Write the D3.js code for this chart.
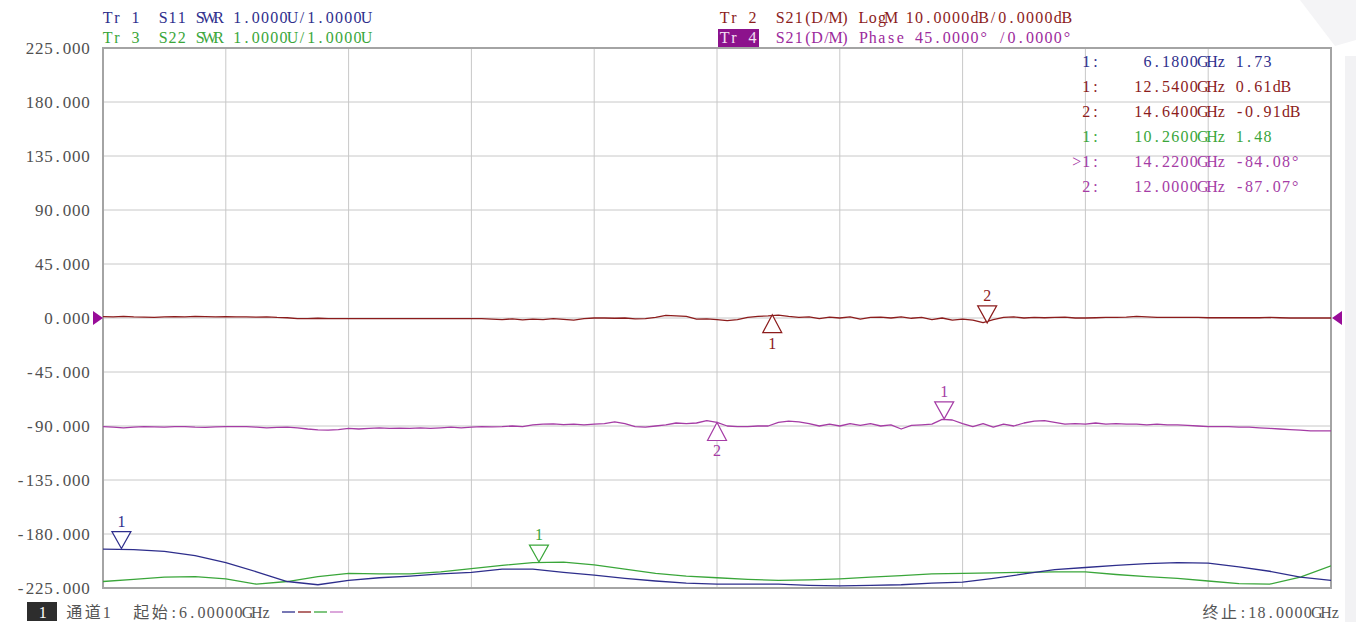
<!DOCTYPE html>
<html>
<head>
<meta charset="utf-8">
<script src="https://cdn.jsdelivr.net/npm/d3@7"></script>
<style>
html, body { margin: 0; padding: 0; background: #fff; }
svg { display: block; }
text { font-family: "Liberation Serif", "Noto Sans CJK SC", serif; white-space: pre; }
</style>
</head>
<body>
<svg id="chart"></svg>
<script>
"use strict";

// sweep points, GHz
var freqCoarse = d3.range(41).map(i => 6 + i * 0.3);
var freqFine = d3.range(121).map(i => 6 + i * 0.1);

// Tr 1, S11 SWR (U), on freqCoarse
var s11Swr = [1.72, 1.71, 1.68, 1.60, 1.47, 1.30, 1.12, 1.06, 1.14, 1.19,
    1.22, 1.26, 1.29, 1.35, 1.35, 1.29, 1.24, 1.18, 1.13, 1.09,
    1.07, 1.07, 1.07, 1.05, 1.04, 1.05, 1.06, 1.09, 1.11, 1.18,
    1.26, 1.34, 1.38, 1.42, 1.45, 1.47, 1.46, 1.39, 1.31, 1.20,
    1.14];

// Tr 3, S22 SWR (U), on freqCoarse
var s22Swr = [1.12, 1.16, 1.20, 1.21, 1.17, 1.07, 1.12, 1.21, 1.27, 1.26,
    1.26, 1.30, 1.36, 1.42, 1.47, 1.48, 1.43, 1.35, 1.27, 1.22,
    1.19, 1.16, 1.14, 1.15, 1.17, 1.20, 1.23, 1.26, 1.27, 1.28,
    1.29, 1.30, 1.30, 1.25, 1.21, 1.18, 1.13, 1.08, 1.07, 1.20,
    1.41];

// Tr 2, S21 LogM (dB), on freqFine
var s21LogM = [0.25, 0.2, 0.3, 0.2, 0.15, 0.1, 0.2, 0.25, 0.2, 0.3,
    0.25, 0.2, 0.25, 0.2, 0.2, 0.15, 0.2, 0.1, 0.05, -0.1,
    -0.1, -0.05, -0.1, -0.1, -0.1, -0.1, -0.1, -0.1, -0.1, -0.1,
    -0.1, -0.1, -0.1, -0.1, -0.1, -0.1, -0.1, -0.1, -0.2, -0.3,
    -0.15, -0.35, -0.2, -0.3, -0.1, -0.25, -0.4, -0.1, 0, 0,
    -0.05, 0, -0.15, -0.1, 0.1, 0.5, 0.4, 0.3, -0.2, -0.15,
    -0.3, -0.5, -0.3, 0.1, 0.3, 0.4, 0.55, 0.3, 0.1, 0.2,
    -0.1, 0.15, 0, 0.2, -0.2, 0.1, 0.15, 0, 0.2, -0.05,
    0.1, -0.3, 0, -0.4, -0.2, -0.4, -0.85, -0.3, 0.1, 0.2,
    0, 0.1, 0.05, 0.1, 0.15, 0, 0, 0.05, 0.1, 0.1,
    0.15, 0.3, 0.2, 0.1, 0.1, 0.1, 0.1, 0.1, 0.05, 0.05,
    0.05, 0.05, 0.05, 0.05, 0.1, 0.05, 0, 0, 0, 0,
    0];

// Tr 4, S21 phase (deg), on freqFine
var s21Phase = [-90.5, -91, -91.5, -91, -90.5, -90.8, -91, -90.5, -90.5, -91,
    -91.2, -90.8, -90.5, -90.6, -90.5, -91, -91.5, -91.2, -91, -91.5,
    -92.5, -93.3, -93.5, -93, -92, -92.5, -92, -91.5, -92, -91.8,
    -92, -91.5, -92, -91.5, -91, -91.5, -91, -90.5, -90.8, -90.5,
    -90, -90.5, -89, -88.5, -88.3, -88.8, -88.5, -89, -88.5, -88,
    -86.5, -88, -90.5, -91, -90, -89, -87.5, -88, -87.5, -85.5,
    -87, -90, -90.5, -90.5, -90, -90, -87, -86, -86.5, -88,
    -90, -88.5, -90, -88, -89.5, -88, -90, -89, -92.5, -89.5,
    -89, -88.5, -84.5, -85, -88, -90.5, -88, -91, -88.5, -90,
    -87.5, -86, -85.5, -87, -88.5, -88, -88.5, -87.5, -88.5, -88,
    -88.5, -88.5, -89, -88.5, -89, -89, -89.5, -90, -90.5, -90.5,
    -90.5, -91, -91, -91.5, -92, -92.5, -93, -93.5, -94, -94,
    -94];

var yTickValues = [225, 180, 135, 90, 45, 0, -45, -90, -135, -180, -225];

// markers
var markerTrace = ['s11', 's21m', 's21m', 's22', 's21p', 's21p'];
var markerName = ['1', '1', '2', '1', '1', '2'];
var markerFreq = [6.18, 12.54, 14.64, 10.26, 14.22, 12.00];
var markerValue = [1.73, 0.61, -0.91, 1.48, -84.08, -87.07];
var markerUnit = ['', 'dB', 'dB', '', '°', '°'];

var headerLines = [
    'Tr 1  S11 SWR 1.0000U/1.0000U',
    'Tr 3  S22 SWR 1.0000U/1.0000U',
    'Tr 2  S21(D/M) LogM 10.0000dB/0.0000dB',
    'Tr 4  S21(D/M) Phase 45.0000° /0.0000°'
];

var settings = {
    svg: { width: 1356, height: 622 },
    plot: { left: 103, right: 1331, top: 48, bottom: 588 },
    cell: 9.25,
    fontSize: 16,
    grid: '#c8c8c8',
    border: '#a4a4a4',
    traces: {
        s11: { color: '#2e2e8c', domain: [1, 11] },
        s22: { color: '#3aa63a', domain: [1, 11] },
        s21m: { color: '#8c1c1c', domain: [-50, 50] },
        s21p: { color: '#a53ca5', domain: [-225, 225] }
    },
    activeMarker: 4,
    // marker triangle: up = tip on trace, body below
    markerUp: [false, true, false, false, false, true]
};

var P = settings.plot;

var svg = d3.select('#chart')
    .attr('width', settings.svg.width)
    .attr('height', settings.svg.height);

// write text on a fixed character grid, like the analyzer's font
function cellText(parent, str, x, y, anchor, color) {
    var cell = settings.cell;
    var chars = Array.from(str);
    var widths = chars.map(c => c.charCodeAt(0) > 0x2e80 ? 2 : 1);
    var total = d3.sum(widths);
    var start = anchor === 'end' ? x - total * cell : x;
    var xs = [], acc = 0;
    widths.forEach(w => { xs.push((start + (acc + w / 2) * cell).toFixed(2)); acc += w; });
    return parent.append('text')
        .attr('x', xs.join(' '))
        .attr('y', y)
        .attr('text-anchor', 'middle')
        .attr('fill', color)
        .style('font-size', settings.fontSize + 'px')
        .text(str);
}

// faint window decoration
svg.append('rect')
    .attr('x', 1345).attr('y', 56).attr('width', 11).attr('height', 566)
    .attr('fill', '#f2f2f4');
svg.append('polygon')
    .attr('points', '1300,0 1356,0 1356,40 1335,46')
    .attr('fill', '#f4f4f6');

var x = d3.scaleLinear().domain([6, 18]).range([P.left, P.right]);
var y = {};
Object.keys(settings.traces).forEach(k => {
    y[k] = d3.scaleLinear().domain(settings.traces[k].domain).range([P.bottom, P.top]);
});

// grid
var grid = svg.append('g').attr('class', 'grid');
grid.selectAll('line.v')
    .data(d3.range(1, 10).map(i => 6 + i * 1.2))
    .enter().append('line')
    .attr('x1', d => x(d)).attr('x2', d => x(d))
    .attr('y1', P.top).attr('y2', P.bottom)
    .attr('stroke', settings.grid).attr('stroke-width', 1);
grid.selectAll('line.h')
    .data(yTickValues.slice(1, -1))
    .enter().append('line')
    .attr('x1', P.left).attr('x2', P.right)
    .attr('y1', d => y.s21p(d)).attr('y2', d => y.s21p(d))
    .attr('stroke', settings.grid).attr('stroke-width', 1);

// left axis labels
var axis = svg.append('g')
    .attr('transform', `translate(${P.left},0)`)
    .call(d3.axisLeft(y.s21p).tickValues(yTickValues).tickFormat(d3.format('.3f')).tickSize(0).tickPadding(13));
axis.select('.domain').remove();
axis.selectAll('.tick text').each(function (d) {
    var str = d3.format('.3f')(d).replace('−', '-');
    var n = str.length, cell = settings.cell;
    var xs = d3.range(n).map(i => (-13 - (n - i - 0.5) * cell).toFixed(2));
    d3.select(this)
        .text(str)
        .attr('x', xs.join(' '))
        .attr('text-anchor', 'middle')
        .attr('fill', '#505050')
        .style('font-family', '"Liberation Serif", serif')
        .style('font-size', '17px');
});

// border
svg.append('rect')
    .attr('x', P.left).attr('y', P.top)
    .attr('width', P.right - P.left).attr('height', P.bottom - P.top)
    .attr('fill', 'none')
    .attr('stroke', settings.border).attr('stroke-width', 2);

// traces
svg.append('clipPath').attr('id', 'plot-clip')
    .append('rect')
    .attr('x', P.left).attr('y', P.top)
    .attr('width', P.right - P.left).attr('height', P.bottom - P.top);

var traceData = [
    { key: 's21m', f: freqFine, v: s21LogM },
    { key: 's21p', f: freqFine, v: s21Phase },
    { key: 's22', f: freqCoarse, v: s22Swr },
    { key: 's11', f: freqCoarse, v: s11Swr }
];

var traces = svg.append('g').attr('clip-path', 'url(#plot-clip)');
traces.selectAll('path')
    .data(traceData)
    .enter().append('path')
    .attr('d', t => d3.line()
        .x((d, i) => x(t.f[i]))
        .y(d => y[t.key](d))(t.v))
    .attr('fill', 'none')
    .attr('stroke', t => settings.traces[t.key].color)
    .attr('stroke-width', 1.3)
    .attr('stroke-linejoin', 'round');

// reference level arrows
var ref = svg.append('g');
ref.append('polygon')
    .attr('points', `${P.left - 10},${y.s21p(0) - 7} ${P.left},${y.s21p(0)} ${P.left - 10},${y.s21p(0) + 7}`)
    .attr('fill', '#980c98');
ref.append('polygon')
    .attr('points', `${P.right + 11},${y.s21p(0) - 7} ${P.right + 1},${y.s21p(0)} ${P.right + 11},${y.s21p(0) + 7}`)
    .attr('fill', '#980c98');

// marker triangles
var mk = svg.append('g').attr('class', 'markers');
markerFreq.forEach((f, i) => {
    var key = markerTrace[i];
    var col = settings.traces[key].color;
    var cx = x(f), cy = y[key](markerValue[i]);
    var up = settings.markerUp[i];
    var pts = up
        ? [[cx, cy], [cx - 9.5, cy + 18], [cx + 9.5, cy + 18]]
        : [[cx, cy], [cx - 9.5, cy - 17], [cx + 9.5, cy - 17]];
    mk.append('polygon')
        .attr('points', pts.map(p => p.join(',')).join(' '))
        .attr('fill', 'white')
        .attr('stroke', col)
        .attr('stroke-width', 1.2);
    mk.append('text')
        .attr('x', cx)
        .attr('y', up ? cy + 34 : cy - 22)
        .attr('text-anchor', 'middle')
        .attr('fill', col)
        .style('font-size', '16px')
        .text(markerName[i]);
});

// header
var header = svg.append('g');
cellText(header, headerLines[0], 103, 23, 'start', settings.traces.s11.color);
cellText(header, headerLines[1], 103, 43, 'start', settings.traces.s22.color);
cellText(header, headerLines[2], 720, 23, 'start', settings.traces.s21m.color);
header.append('rect')
    .attr('x', 718).attr('y', 29).attr('width', 41).attr('height', 18)
    .attr('fill', '#8c128c');
cellText(header, headerLines[3].slice(0, 4), 720, 43, 'start', '#f4e0f4');
cellText(header, headerLines[3].slice(4), 720 + 4 * settings.cell, 43, 'start', '#9c2a9c');

// marker table
var table = svg.append('g');
markerFreq.forEach((f, i) => {
    var col = settings.traces[markerTrace[i]].color;
    var by = 67 + i * 25;
    var label = (i === settings.activeMarker ? '>' : '') + markerName[i] + ':';
    cellText(table, label, 1100, by, 'end', col);
    cellText(table, d3.format('.4f')(f) + 'GHz', 1226, by, 'end', col);
    cellText(table, d3.format('.2f')(markerValue[i]).replace('−', '-') + markerUnit[i], 1235, by, 'start', col);
});

// footer
var footer = svg.append('g');
footer.append('rect')
    .attr('x', 27).attr('y', 602).attr('width', 30).attr('height', 19)
    .attr('fill', '#2d2d2d');
cellText(footer, '1', 38, 618, 'start', '#ffffff');
cellText(footer, '通道1', 65, 618, 'start', '#555');
cellText(footer, '起始:6.00000GHz', 132, 618, 'start', '#555');
cellText(footer, '终止:18.0000GHz', 1340, 618, 'end', '#555');

var legendKeys = ['s11', 's21m', 's22', 's21p'];
footer.selectAll('line.leg')
    .data(legendKeys)
    .enter().append('line')
    .attr('x1', (d, i) => 282 + i * 16)
    .attr('x2', (d, i) => 295 + i * 16)
    .attr('y1', 612).attr('y2', 612)
    .attr('stroke', d => d === 's21p' ? '#c878c8' : settings.traces[d].color)
    .attr('stroke-width', 1.3);
</script>
</body>
</html>
